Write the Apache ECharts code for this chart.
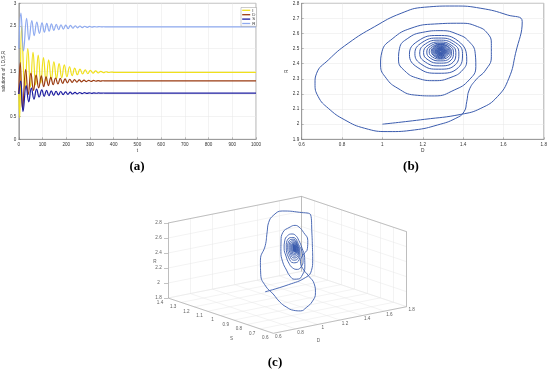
<!DOCTYPE html>
<html><head><meta charset="utf-8">
<script src="https://cdn.jsdelivr.net/npm/echarts@6/dist/echarts.min.js"></script>
<style>html,body{margin:0;padding:0;background:#fff}#c{width:550px;height:376px}</style>
</head><body><div id="c"></div>
<script>
// ---------- panel (a): time series, values read at turning points ----------
const seriesNames = ['I', 'D', 'S', 'R'];
const tI = [0,4,12,26,38,49,60,71,82,93,104,115,126,137,148,159,170,181,192,203,214,225,236,247,258,269,280,291,302,313,324,335,346,357,368,379,390,401,430,1000];
const vI = [1.0,0.48,2.5,1.1,2.0,1.15,1.92,1.2,1.86,1.24,1.8,1.28,1.75,1.31,1.71,1.34,1.67,1.36,1.64,1.38,1.6,1.405,1.57,1.425,1.55,1.44,1.533,1.45,1.52,1.458,1.508,1.464,1.498,1.469,1.49,1.473,1.484,1.476,1.478,1.478];
const tD = [0,6,16,29,40,51,62,73,84,95,105,115,125,135,145,155,165,175,185,195,205,215,225,235,245,255,265,275,285,295,305,315,325,335,345,355,365,400,1000];
const vD = [1.0,1.693,0.666,1.54,0.991,1.463,1.08,1.418,1.134,1.397,1.161,1.379,1.185,1.364,1.204,1.352,1.22,1.342,1.232,1.333,1.245,1.325,1.255,1.318,1.262,1.312,1.268,1.306,1.273,1.302,1.277,1.298,1.281,1.295,1.284,1.292,1.287,1.289,1.289];
const tS = [0,8,18,31,42,53,64,75,86,97,107,117,127,137,147,157,167,177,187,197,207,217,227,237,247,257,267,277,287,297,307,317,327,337,347,357,367,400,1000];
const vS = [1.0,1.282,0.614,1.182,0.826,1.132,0.884,1.107,0.933,1.092,0.948,1.079,0.961,1.069,0.971,1.06,0.98,1.054,0.986,1.046,0.993,1.041,0.999,1.036,1.004,1.032,1.008,1.029,1.011,1.026,1.014,1.024,1.016,1.022,1.018,1.021,1.019,1.02,1.02];
const tR = [0,9,20,33,43,55,65,76,87,98,108,118,128,138,148,158,168,178,188,198,208,218,228,238,248,258,268,278,288,298,308,318,328,338,348,358,368,400,1000];
const vR = [2.0,2.782,1.951,2.668,2.187,2.619,2.288,2.587,2.337,2.57,2.364,2.556,2.386,2.544,2.404,2.535,2.419,2.527,2.431,2.52,2.442,2.512,2.451,2.505,2.458,2.499,2.464,2.494,2.469,2.49,2.473,2.487,2.477,2.485,2.479,2.483,2.481,2.482,2.482];

// ---------- panels (b),(c): trajectory read from the phase portraits ----------
const trajD = [
1.000,1.208,1.389,1.488,1.570,1.627,1.660,1.693,1.619,1.488,
1.356,1.208,1.093,0.962,0.830,0.732,0.674,0.666,0.682,0.732,
0.814,0.912,1.027,1.159,1.274,1.364,1.405,1.418,1.430,1.463,
1.512,1.540,1.540,1.521,1.471,1.389,1.258,1.142,1.052,0.998,
0.991,1.019,1.077,1.159,1.258,1.356,1.430,1.463,1.460,1.430,
1.373,1.290,1.200,1.126,1.085,1.080,1.110,1.175,1.258,1.340,
1.398,1.418,
1.376,1.276,1.176,1.134,1.176,1.276,1.376,
1.397,1.362,1.279,1.196,1.161,1.196,1.279,1.362,
1.379,1.351,1.282,1.213,1.185,1.213,1.282,1.351,
1.364,1.341,1.284,1.227,1.204,1.227,1.284,1.341,
1.352,1.333,1.286,1.239,1.220,1.239,1.286,1.333,
1.342,1.326,1.287,1.248,1.232,1.248,1.287,1.326,
1.336,1.289,1.242,1.289,1.331,1.289,1.247,1.289,1.326,1.289,1.252,1.289,1.322,1.289,1.256,1.289,
1.318,1.289,1.260,1.289,1.315,1.289,1.263,1.289,1.312,1.289,1.266,1.289,1.309,1.289,1.269,1.289,
1.307,1.289,1.271,1.289,1.305,1.289,1.273,1.289,1.303,1.289,1.275,1.289,1.301,1.289,1.277,1.289,
1.299,1.289,1.279,1.289,1.297,1.289,1.281,1.289,1.295,1.289,1.283,1.289,1.293,1.289,1.285,1.289,
1.289];
const trajR = [
2.000,2.032,2.065,2.105,2.182,2.304,2.469,2.679,2.723,2.767,
2.782,2.774,2.734,2.646,2.535,2.425,2.337,2.271,2.182,2.105,
2.028,1.973,1.951,1.962,1.995,2.039,2.083,2.149,2.226,2.293,
2.359,2.447,2.535,2.601,2.646,2.668,2.663,2.635,2.568,2.480,
2.392,2.304,2.237,2.193,2.187,2.226,2.293,2.381,2.469,2.546,
2.595,2.619,2.608,2.568,2.502,2.425,2.354,2.304,2.288,2.310,
2.359,2.425,
2.550,2.587,2.550,2.462,2.374,2.337,2.374,
2.467,2.540,2.570,2.540,2.467,2.394,2.364,2.394,
2.471,2.531,2.556,2.531,2.471,2.411,2.386,2.411,
2.474,2.523,2.544,2.523,2.474,2.425,2.404,2.425,
2.477,2.518,2.535,2.518,2.477,2.436,2.419,2.436,
2.479,2.513,2.527,2.513,2.479,2.445,2.431,2.445,
2.482,2.529,2.482,2.435,2.482,2.524,2.482,2.440,2.482,2.519,2.482,2.445,2.482,2.515,2.482,2.449,
2.482,2.511,2.482,2.453,2.482,2.508,2.482,2.456,2.482,2.505,2.482,2.459,2.482,2.502,2.482,2.462,
2.482,2.500,2.482,2.464,2.482,2.498,2.482,2.466,2.482,2.496,2.482,2.468,2.482,2.494,2.482,2.470,
2.482,2.492,2.482,2.472,2.482,2.490,2.482,2.474,2.482,2.488,2.482,2.476,2.482,2.486,2.482,2.478,
2.482];
const trajS = [
1.000,1.000,1.020,1.060,1.120,1.170,1.202,1.239,1.260,1.282,
1.234,1.149,1.063,0.967,0.892,0.807,0.721,0.657,0.620,0.614,
0.625,0.657,0.711,0.774,0.849,0.935,1.010,1.068,1.095,1.103,
1.111,1.132,1.164,1.182,1.170,1.138,1.084,0.999,0.924,0.865,
0.830,0.826,0.844,0.882,0.935,0.999,1.063,1.111,1.132,1.131,
1.111,1.074,1.020,0.962,0.913,0.887,0.884,0.903,0.945,0.999,
1.053,1.090,
1.107,1.059,0.988,0.936,0.933,0.981,1.052,
1.090,1.092,1.052,0.994,0.950,0.948,0.988,1.046,
1.077,1.079,1.047,0.998,0.963,0.961,0.993,1.042,
1.067,1.069,1.042,1.002,0.973,0.971,0.998,1.038,
1.059,1.060,1.038,1.005,0.981,0.980,1.002,1.035,
1.053,1.054,1.035,1.008,0.987,0.986,1.005,1.032,
1.048,1.033,0.992,1.007,1.045,1.032,0.995,1.008,1.042,1.030,0.998,1.010,1.039,1.029,1.001,1.011,
1.037,1.028,1.003,1.012,1.035,1.027,1.005,1.013,1.034,1.026,1.006,1.014,1.032,1.026,1.008,1.015,
1.031,1.025,1.009,1.015,1.029,1.024,1.011,1.016,1.028,1.024,1.012,1.016,1.027,1.023,1.013,1.017,
1.026,1.023,1.014,1.017,1.025,1.022,1.015,1.018,1.024,1.022,1.016,1.018,1.022,1.021,1.018,1.019,
1.020];

// tick values
const ticksAx = [0,100,200,300,400,500,600,700,800,900,1000];
const ticksAy = [0,0.5,1,1.5,2,2.5,3];
const ticksBx = [0.6,0.8,1,1.2,1.4,1.6,1.8];
const ticksBy = [1.9,2,2.1,2.2,2.3,2.4,2.5,2.6,2.7,2.8];
const ticks3S = [0.6,0.7,0.8,0.9,1,1.1,1.2,1.3,1.4];
const ticks3D = [0.6,0.8,1,1.2,1.4,1.6,1.8];
const ticks3R = [1.8,2,2.2,2.4,2.6,2.8];

// ---------- styling / layout ----------
const colors = {I:'#f0e01c', D:'#9a3b12', S:'#1c1ca0', R:'#8eaaf0'};
const lineBlue = '#3b5cae';
const FONT = 'Liberation Sans';
const txt = '#333';
const gridLineC = '#e6e6e6';
const boxC = '#9a9a9a';

// 3-D view geometry (pixels)
const V = {F:[273.3,333.3], L:[168,298], Rc:[406.7,306.7], H:75};
const S0 = ticks3S[0], S1 = ticks3S[ticks3S.length-1];
const D0 = ticks3D[0], D1 = ticks3D[ticks3D.length-1];
const R0 = ticks3R[0], R1 = ticks3R[ticks3R.length-1];
function proj(s, d, r) {
  const u = (s - S0) / (S1 - S0), v = (d - D0) / (D1 - D0), w = (r - R0) / (R1 - R0);
  return [V.F[0] + u * (V.L[0] - V.F[0]) + v * (V.Rc[0] - V.F[0]),
          V.F[1] + u * (V.L[1] - V.F[1]) + v * (V.Rc[1] - V.F[1]) - w * V.H];
}
const fmt = v => String(+v.toFixed(2));

// grid lines of the 3-D box
const gridSegs = [];
ticks3D.forEach(d => { gridSegs.push([proj(S0,d,R0), proj(S1,d,R0)]); gridSegs.push([proj(S1,d,R0), proj(S1,d,R1)]); });
ticks3S.forEach(s => { gridSegs.push([proj(s,D0,R0), proj(s,D1,R0)]); gridSegs.push([proj(s,D1,R0), proj(s,D1,R1)]); });
ticks3R.forEach(r => { gridSegs.push([proj(S1,D0,r), proj(S1,D1,r)]); gridSegs.push([proj(S1,D1,r), proj(S0,D1,r)]); });
const boxSegs = [
  [proj(S1,D0,R1), proj(S1,D1,R1)], [proj(S1,D1,R1), proj(S0,D1,R1)],
  [proj(S1,D0,R0), proj(S1,D0,R1)], [proj(S1,D1,R0), proj(S1,D1,R1)], [proj(S0,D1,R0), proj(S0,D1,R1)],
  [proj(S1,D0,R0), proj(S0,D0,R0)], [proj(S0,D0,R0), proj(S0,D1,R0)]
];
const tickSegs = [];
ticks3R.forEach(r => { const p = proj(S1,D0,r); tickSegs.push([[p[0]-4,p[1]],p]); });

const labels3 = [];
ticks3R.forEach(r => { const p = proj(S1,D0,r); labels3.push({value:[p[0]-9.5,p[1]], name:fmt(r)}); });
ticks3S.forEach(s => { const p = proj(s,D0,R0); labels3.push({value:[p[0]-8,p[1]+4.5], name:fmt(s)}); });
ticks3D.forEach(d => { const p = proj(S0,d,R0); labels3.push({value:[p[0]+5,p[1]+3.5], name:fmt(d)}); });
const titles3 = [
  {value:[155,261.5], name:'R'},
  {value:[231.5,338.5], name:'S'},
  {value:[318.5,340.5], name:'D'}
];

const traj3 = trajD.map((d,i) => proj(trajS[i], d, trajR[i]));
const trajB = trajD.map((d,i) => [d, trajR[i]]);

const pair = (ts, vs) => ts.map((t,i) => [t, vs[i]]);
const dataA = {I: pair(tI,vI), D: pair(tD,vD), S: pair(tS,vS), R: pair(tR,vR)};

function valAxis(grid, min, max, interval, name, nameGap) {
  return {
    type:'value', gridIndex:grid, min, max, interval,
    axisLine:{show:true, onZero:false, lineStyle:{color:'#777', width:0.6}},
    axisTick:{show:true, inside:true, length:2, lineStyle:{color:'#777', width:0.5}},
    axisLabel:{fontSize:4.6, color:txt, fontFamily:FONT, margin:2.5, formatter: v => String(+(+v).toFixed(2))},
    splitLine:{show:true, lineStyle:{color:gridLineC, width:0.5}},
    name, nameLocation:'middle', nameGap,
    nameTextStyle:{fontSize:4.8, color:txt, fontFamily:FONT}
  };
}

const option = {
  backgroundColor:'#fff',
  animation:false,
  grid:[
    {left:14, top:3.3, width:242, height:136, show:true, borderColor:'#777', borderWidth:0.6, backgroundColor:'#fff'},
    {left:301.7, top:3.3, width:243.3, height:136, show:true, borderColor:'#777', borderWidth:0.6, backgroundColor:'#fff'},
    {left:0, top:0, width:550, height:376, show:false}
  ],
  xAxis:[
    valAxis(0, ticksAx[0], ticksAx[ticksAx.length-1], 100, 't', 9),
    valAxis(1, ticksBx[0], ticksBx[ticksBx.length-1], 0.2, 'D', 9),
    {type:'value', gridIndex:2, min:0, max:550, show:false}
  ],
  yAxis:[
    valAxis(0, ticksAy[0], ticksAy[ticksAy.length-1], 0.5, 'solutions of I,D,S,R', 7),
    valAxis(1, ticksBy[0], ticksBy[ticksBy.length-1], 0.1, 'R', 11),
    {type:'value', gridIndex:2, min:0, max:376, inverse:true, show:false}
  ],
  legend:{
    data:seriesNames, orient:'vertical', left:241, top:7.5,
    itemWidth:8, itemHeight:1.3, itemGap:0.4, icon:'rect',
    padding:[0.8,1.2,0.8,1.2], selectedMode:false,
    textStyle:{fontSize:4.4, color:txt, fontFamily:FONT, padding:[0,0,0,-3]},
    borderColor:'#999', borderWidth:0.5, backgroundColor:'#fff'
  },
  graphic:[
    {type:'text', x:137, y:167, style:{text:'(a)', fontSize:13, fontWeight:'bold', fontFamily:'Liberation Serif', fill:'#000', align:'center', verticalAlign:'middle'}},
    {type:'text', x:411, y:167, style:{text:'(b)', fontSize:13, fontWeight:'bold', fontFamily:'Liberation Serif', fill:'#000', align:'center', verticalAlign:'middle'}},
    {type:'text', x:275, y:363, style:{text:'(c)', fontSize:13, fontWeight:'bold', fontFamily:'Liberation Serif', fill:'#000', align:'center', verticalAlign:'middle'}}
  ],
  series:[
    ...seriesNames.map(n => ({
      name:n, type:'line', xAxisIndex:0, yAxisIndex:0, data:dataA[n],
      showSymbol:false, smooth:0.45, color:colors[n],
      lineStyle:{width:1.2, color:colors[n]}
    })),
    {name:'traj2d', type:'line', xAxisIndex:1, yAxisIndex:1, data:trajB, showSymbol:false,
     smooth:0.5, color:lineBlue, lineStyle:{width:1, color:lineBlue}},
    {name:'grid3', type:'lines', coordinateSystem:'cartesian2d', xAxisIndex:2, yAxisIndex:2,
     data:gridSegs.map(c => ({coords:c})), lineStyle:{color:gridLineC, width:0.5, opacity:1}, silent:true, z:1},
    {name:'box3', type:'lines', coordinateSystem:'cartesian2d', xAxisIndex:2, yAxisIndex:2,
     data:boxSegs.concat(tickSegs).map(c => ({coords:c})), lineStyle:{color:boxC, width:0.6, opacity:1}, silent:true, z:2},
    {name:'traj3d', type:'line', xAxisIndex:2, yAxisIndex:2, data:traj3, showSymbol:false,
     smooth:0.5, color:lineBlue, lineStyle:{width:0.9, color:lineBlue}, z:3},
    {name:'labels3', type:'scatter', xAxisIndex:2, yAxisIndex:2, data:labels3.concat(titles3), symbolSize:0,
     label:{show:true, position:'inside', formatter:'{b}', fontSize:4.6, color:txt, fontFamily:FONT}, silent:true, z:4}
  ]
};
const chart = echarts.init(document.getElementById('c'), null, {renderer:'canvas', width:550, height:376});
chart.setOption(option);
</script>
</body></html>
